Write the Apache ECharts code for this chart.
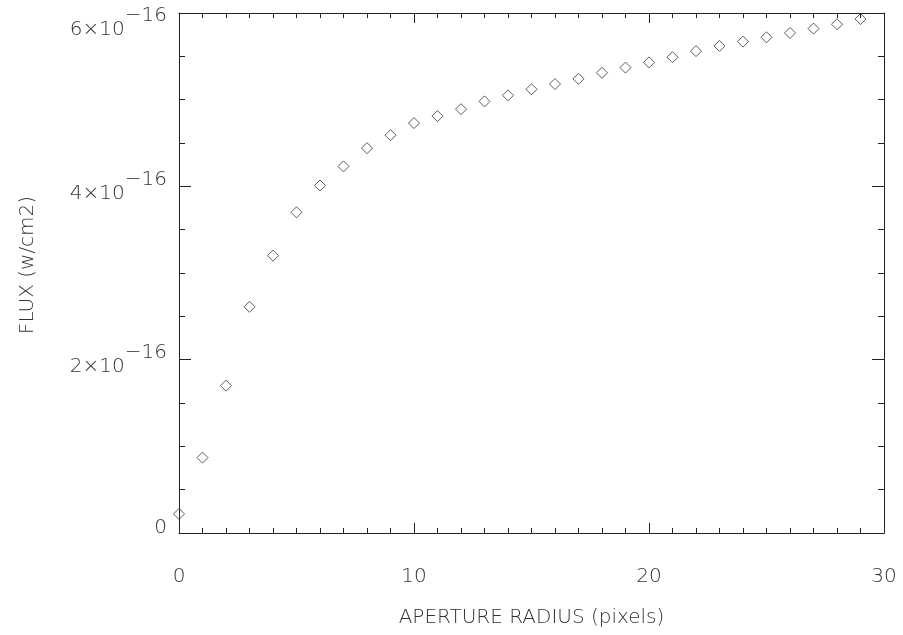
<!DOCTYPE html>
<html>
<head>
<meta charset="utf-8">
<script src="https://cdn.jsdelivr.net/npm/echarts@6/dist/echarts.min.js"></script>
<style>
  html, body { margin: 0; padding: 0; background: #fff; }
  #main { width: 903px; height: 635px; }
</style>
</head>
<body>
<div id="main"></div>
<script>
// aperture radius in pixels
const radius = [0,1,2,3,4,5,6,7,8,9,10,11,12,13,14,15,16,17,18,19,20,21,22,23,24,25,26,27,28,29]
// flux in units of 1e-16 w/cm2
const flux = [0.22,0.87,1.70,2.61,3.20,3.70,4.01,4.23,4.44,4.59,4.73,4.81,4.89,4.98,5.05,5.12,5.18,5.24,5.31,5.37,5.43,5.49,5.56,5.62,5.67,5.72,5.77,5.82,5.87,5.93]
const yTicks = [0, 2, 4, 6]

const ink = '#333'
const font = 'DejaVu Sans'
const fs = 20

let myChart = echarts.init(document.getElementById('main'))

// y labels like 4×10^-16; top one pushed down by an empty first line
const fmtY = (v) => {
  if (v === 0) return '{z|0}'
  const lbl = '{b|' + v + '×10}{s|−16}'
  if (v === yTicks[yTicks.length - 1]) return '{e| }\n' + lbl
  return lbl
}

const txt = { fontFamily: font, fontWeight: 200, fontSize: fs, color: ink }

const tickX = {
  min: 0, max: 30, interval: 10,
  axisLine: { onZero: false, lineStyle: { color: '#222', width: 1 } },
  axisTick: { inside: true, length: 10, lineStyle: { color: '#222' } },
  minorTick: { show: true, splitNumber: 10, length: 5, lineStyle: { color: '#222' } },
  splitLine: { show: false }
}
const tickY = {
  min: 0, max: 6, interval: 2,
  axisLine: { onZero: false, lineStyle: { color: '#222', width: 1 } },
  axisTick: { inside: true, length: 12, lineStyle: { color: '#222' } },
  minorTick: { show: true, splitNumber: 4, length: 6, lineStyle: { color: '#222' } },
  splitLine: { show: false }
}

myChart.setOption({
  animation: false,
  backgroundColor: '#fff',
  grid: { left: 179, right: 19, top: 13, bottom: 102, containLabel: false, outerBoundsMode: 'none' },
  xAxis: [
    Object.assign({}, tickX, {
      type: 'value', position: 'bottom',
      name: 'APERTURE RADIUS (pixels)', nameLocation: 'middle', nameGap: 75,
      nameTextStyle: txt,
      axisLabel: Object.assign({ margin: 34 }, txt)
    }),
    Object.assign({}, tickX, {
      type: 'value', position: 'top', axisLabel: { show: false }
    })
  ],
  yAxis: [
    Object.assign({}, tickY, {
      type: 'value', position: 'left',
      name: 'FLUX (w/cm2)', nameLocation: 'middle', nameGap: 141,
      nameTextStyle: Object.assign({ padding: [0, 0, 0, 16] }, txt),
      axisLabel: {
        margin: 12,
        formatter: fmtY,
        rich: {
          b: Object.assign({}, txt, { lineHeight: 34, verticalAlign: 'bottom' }),
          s: Object.assign({}, txt, { lineHeight: 34, verticalAlign: 'top' }),
          e: Object.assign({}, txt, { lineHeight: 20 }),
          z: Object.assign({}, txt, { lineHeight: 20, padding: [0, 0, 11, 0] })
        }
      }
    }),
    Object.assign({}, tickY, {
      type: 'value', position: 'right', axisLabel: { show: false }
    })
  ],
  series: [{
    type: 'scatter',
    xAxisIndex: 0,
    yAxisIndex: 0,
    clip: true,
    symbol: 'diamond',
    symbolSize: [11, 11],
    itemStyle: { color: 'rgba(0,0,0,0)', borderColor: '#333', borderWidth: 1 },
    data: radius.map((r, i) => [r, flux[i]])
  }]
})
</script>
</body>
</html>
